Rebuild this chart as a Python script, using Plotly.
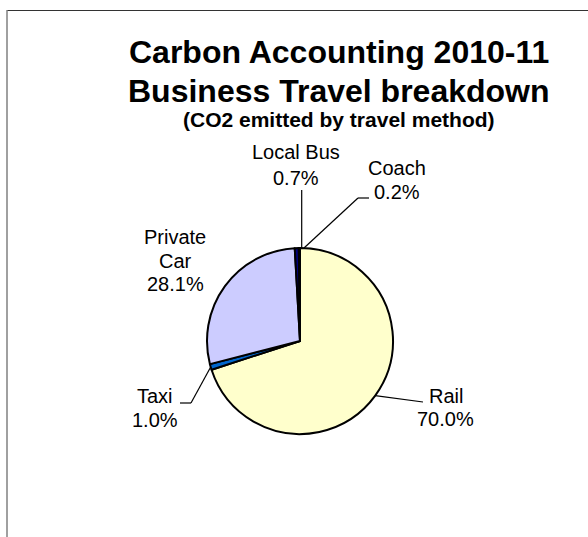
import plotly.graph_objects as go
import math

# Data
categories = ["Rail", "Taxi", "Private Car", "Local Bus", "Coach"]
values = [70.0, 1.0, 28.1, 0.7, 0.2]
colors = ["#FFFFCC", "#0066CC", "#CCCCFF", "#000080", "#333399"]
title_lines = ["Carbon Accounting 2010-11", "Business Travel breakdown"]
subtitle = "(CO2 emitted by travel method)"

W, H = 588, 537
FONT = "Liberation Sans, Arial, sans-serif"

# pie geometry (pixels)
cx, cy, r = 300, 341, 93

fig = go.Figure()
fig.add_trace(go.Pie(
    labels=categories, values=values, sort=False, direction="clockwise",
    rotation=0, textinfo="none", hoverinfo="label+percent",
    marker=dict(colors=colors, line=dict(color="#000000", width=2)),
    domain=dict(x=[(cx - r) / W, (cx + r) / W], y=[1 - (cy + r) / H, 1 - (cy - r) / H]),
    showlegend=False,
))


def px(x):
    return x / W


def py(y):
    return 1 - y / H


def slice_point(idx, rad):
    total = sum(values)
    start = sum(values[:idx]) / total * 360
    mid = start + values[idx] / total * 360 / 2
    a = math.radians(mid)
    return cx + rad * math.sin(a), cy - rad * math.cos(a)


annotations = []
shapes = []


def text(x, baseline, s, size, bold=False):
    # place text so that its baseline lands near `baseline`
    annotations.append(dict(
        x=px(x), y=py(baseline - 0.36 * size), xref="paper", yref="paper", showarrow=False,
        text=("<b>%s</b>" % s) if bold else s, xanchor="center", yanchor="middle",
        font=dict(family=FONT, size=size, color="#000000")))


# Title
text(338.5, 64, title_lines[0], 32, True)
text(338.5, 102.5, title_lines[1], 32, True)
text(338.5, 127, subtitle, 21, True)

# Labels
pct = ["%.1f%%" % v for v in values]
LS = 20
text(296, 159, "Local Bus", LS)
text(296, 185, pct[3], LS)
text(397.5, 175, "Coach", LS)
text(397.5, 199, pct[4], LS)
text(175, 244, "Private", LS)
text(175, 268, "Car", LS)
text(175, 291, pct[2], LS)
text(155, 403, "Taxi", LS)
text(155, 427, pct[1], LS)
text(446, 403, "Rail", LS)
text(445, 426, pct[0], LS)


def seg(x0, y0, x1, y1):
    shapes.append(dict(type="line", xref="paper", yref="paper",
                       x0=px(x0), y0=py(y0), x1=px(x1), y1=py(y1),
                       line=dict(color="#000000", width=1.2)))


# Leader lines
p = slice_point(3, r)
seg(301.7, 190, 301.7, p[1])
p = slice_point(4, r)
seg(369, 198, 358, 198)
seg(358, 198, 304, 248)
p = slice_point(1, r)
seg(180, 403, 191, 403)
seg(191, 403, p[0], p[1])
p = slice_point(0, r)
seg(p[0], p[1], 423, 402)

# Border of the chart area
shapes.append(dict(type="line", xref="paper", yref="paper", x0=px(7), y0=py(10.5), x1=1, y1=py(10.5),
                   line=dict(color="#333333", width=1)))
shapes.append(dict(type="line", xref="paper", yref="paper", x0=px(7), y0=py(10), x1=px(7), y1=0,
                   line=dict(color="#808080", width=1.5)))

fig.update_layout(
    width=W, height=H, margin=dict(l=0, r=0, t=0, b=0),
    paper_bgcolor="#FFFFFF", plot_bgcolor="#FFFFFF",
    annotations=annotations, shapes=shapes,
)

fig.write_html("out.html", config={"displayModeBar": False},
               post_script="document.body.style.margin='0';document.body.style.overflow='hidden';")
